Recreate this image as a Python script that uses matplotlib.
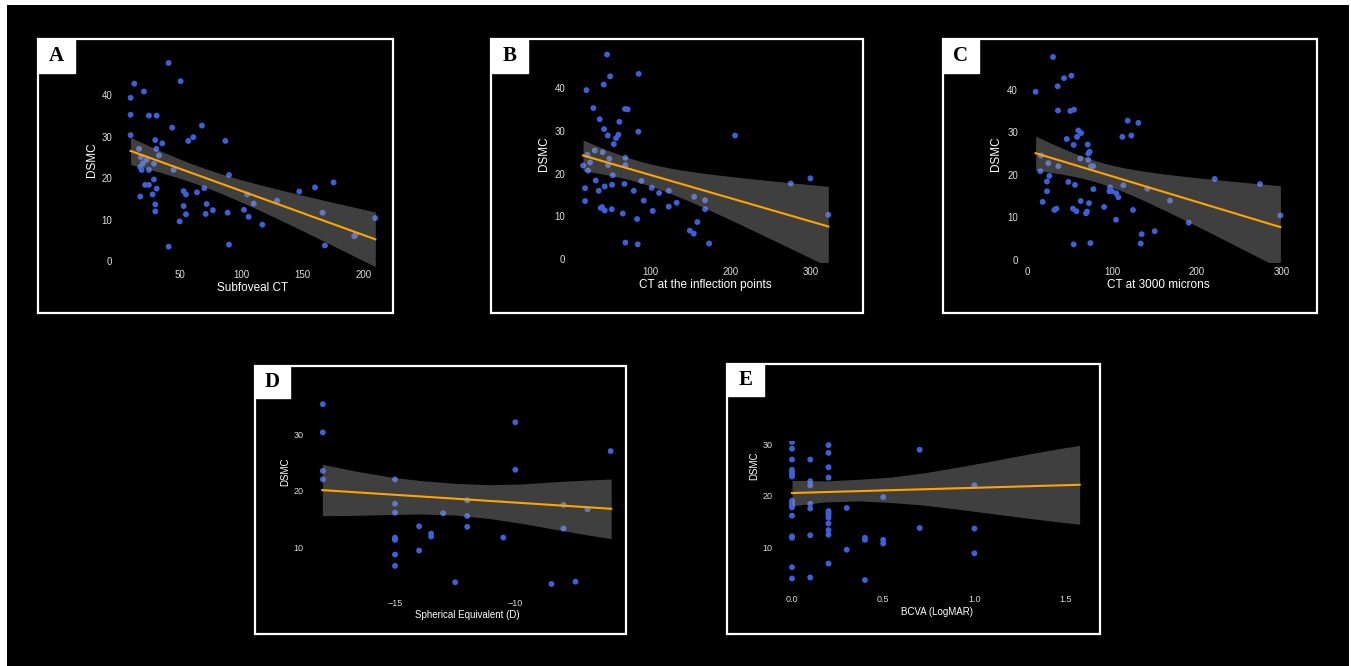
import numpy as np
import matplotlib
matplotlib.use("Agg")
import matplotlib.pyplot as plt
from matplotlib.patches import Rectangle

W, H = 1351, 666

# A: Subfoveal CT vs DSMC
a_x = [9.6, 12.6, 9.6, 9.6, 20.5, 40.7, 50.5, 24.6, 30.9, 43.7, 68.0, 60.9, 56.8, 87.1,
       29.8, 35.5, 16.5, 30.7, 32.8, 18.0, 22.6, 19.6, 28.7, 17.5, 18.6, 24.6, 44.8, 28.7,
       90.1, 21.5, 24.6, 30.9, 17.5, 27.6, 53.0, 54.9, 63.9, 69.9, 29.8, 29.8, 53.0, 54.9,
       71.8, 76.9, 71.0, 49.7, 89.0, 102.4, 106.2, 105.1, 110.3, 117.4, 129.4, 147.6, 160.5,
       175.7, 166.7, 168.6, 90.1, 40.7, 192.6, 193.7, 209.8]
a_y = [39.4, 42.8, 35.3, 30.4, 40.9, 47.8, 43.4, 35.1, 35.1, 32.2, 32.7, 29.9, 29.0, 29.0,
       29.2, 28.4, 27.1, 27.1, 25.5, 25.1, 24.4, 23.6, 23.5, 22.7, 22.0, 22.0, 22.0, 19.7,
       20.8, 18.4, 18.4, 17.5, 15.6, 16.1, 16.9, 16.1, 16.6, 17.6, 13.7, 12.0, 13.3, 11.3,
       13.8, 12.3, 11.4, 9.6, 11.7, 12.4, 10.7, 16.1, 13.9, 8.8, 14.6, 16.8, 17.8,
       19.0, 11.7, 3.8, 4.0, 3.5, 6.0, 6.4, 10.4]

# B: CT at the inflection points vs DSMC
b_x = [45.9, 49.7, 85.4, 41.8, 20.2, 28.9, 68.4, 71.7, 36.8, 61.3, 42.2, 85.0, 46.8, 60.1,
       57.2, 205.6, 54.3, 30.6, 40.5, 21.4, 48.9, 68.8, 24.7, 16.0, 47.2, 68.8, 22.2, 53.0,
       31.8, 88.8, 18.5, 43.0, 52.2, 67.6, 35.6, 79.2, 101.7, 110.8, 122.9, 275.1, 299.6,
       154.5, 168.2, 18.5, 91.7, 132.8, 38.0, 39.7, 43.0, 51.8, 65.5, 102.9, 122.9, 168.2,
       83.4, 158.6, 149.1, 154.1, 68.8, 84.2, 173.2, 322.0]
b_y = [47.8, 42.7, 43.3, 40.8, 39.5, 35.3, 35.1, 35.0, 32.7, 32.1, 30.4, 29.8, 28.9, 29.1,
       28.3, 28.9, 26.9, 25.4, 25.0, 24.4, 23.5, 23.7, 22.6, 21.9, 22.0, 22.0, 20.7, 19.6,
       18.4, 18.3, 16.6, 17.0, 17.4, 17.6, 16.0, 16.0, 16.7, 15.5, 16.0, 17.7, 18.9,
       14.6, 13.8, 13.6, 13.7, 13.2, 12.0, 12.2, 11.4, 11.7, 10.7, 11.3, 12.3, 11.7,
       9.4, 8.7, 6.7, 6.0, 3.9, 3.5, 3.7, 10.4]

# C: CT at 3000 microns vs DSMC
c_x = [30.3, 43.3, 52.0, 35.8, 9.8, 36.2, 50.8, 55.1, 118.5, 131.1, 60.2, 63.4, 58.7, 112.2,
       122.8, 46.5, 54.7, 71.3, 73.6, 72.0, 16.1, 62.6, 72.0, 24.8, 36.6, 75.2, 77.6, 15.4,
       26.0, 23.2, 48.4, 56.3, 113.4, 221.3, 274.8, 23.2, 78.0, 97.6, 96.9, 100.0, 105.1,
       107.5, 141.7, 18.1, 63.0, 72.8, 168.5, 34.3, 31.9, 53.9, 57.9, 69.3, 70.5, 90.6,
       124.8, 104.7, 190.6, 135.0, 150.4, 54.7, 74.4, 133.9, 298.8]
c_y = [47.7, 42.7, 43.3, 40.8, 39.5, 35.1, 35.0, 35.3, 32.7, 32.2, 30.4, 29.8, 28.9, 28.9,
       29.2, 28.4, 27.0, 27.1, 25.4, 25.0, 24.5, 23.8, 23.5, 22.7, 22.0, 22.0, 22.0, 20.8,
       19.7, 18.4, 18.3, 17.6, 17.5, 19.0, 17.8, 16.1, 16.6, 17.0, 16.1, 16.1, 15.6,
       14.7, 16.7, 13.6, 13.8, 13.3, 13.9, 12.0, 11.7, 12.0, 11.4, 10.9, 11.3, 12.4,
       11.7, 9.4, 8.7, 6.0, 6.7, 3.6, 3.9, 3.8, 10.4]

# D: Spherical Equivalent (D) vs DSMC
d_x = [-18.0, -18.0, -18.0, -18.0, -15.0, -15.0, -15.0, -15.0, -15.0, -15.0, -15.0, -15.0,
       -14.0, -14.0, -13.5, -13.5, -13.0, -12.5, -12.0, -12.0, -12.0, -10.5, -10.0, -10.0,
       -8.5, -8.0, -8.0, -7.5, -7.0, -6.04]
d_y = [35.3, 30.3, 23.5, 22.0, 22.0, 17.7, 16.1, 11.7, 11.4, 11.3, 8.7, 6.7,
       13.7, 9.4, 12.4, 11.9, 16.0, 3.8, 18.3, 15.5, 13.6, 11.7, 32.1, 23.7,
       3.5, 17.5, 13.3, 3.9, 16.7, 27.0]
# D fit line and confidence band
d_fit_x = [-18.02, -6.02]
d_fit_y = [20.1, 16.8]
d_band_x = [-18.02, -16.66, -15.0, -13.89, -12.51, -11.12, -9.74, -8.35, -6.97, -6.02]
d_band_hi = [24.66, 23.48, 22.30, 21.77, 21.30, 21.06, 21.18, 21.59, 21.89, 22.06]
d_band_lo = [15.58, 15.63, 15.81, 15.87, 15.69, 15.10, 14.22, 13.16, 12.15, 11.50]

# E: BCVA (LogMAR) vs DSMC (visible points)
e_x = [0.0] * 16 + [0.1] * 7 + [0.2] * 12 + [0.3] * 2 + [0.4] * 3 + [0.5] * 3 + [0.7] * 2 + [1.0] * 3
e_y = [30.4, 29.1, 27.0, 25.0, 24.6, 24.2, 23.7, 19.0, 18.6, 18.1, 17.7, 16.1, 12.1, 11.8, 6.1, 3.9,
       27.0, 22.8, 22.0, 18.4, 17.5, 12.3, 4.1,
       29.8, 28.3, 25.5, 23.5, 17.0, 16.6, 16.2, 15.7, 14.6, 13.3, 12.4, 6.8,
       17.6, 9.5,
       11.8, 11.4, 3.6,
       19.7, 11.4, 10.7,
       28.9, 13.7,
       22.0, 13.6, 8.8]
# E fit line and confidence band
e_fit_x = [0.0, 1.577]
e_fit_y = [20.5, 22.1]
e_band_x = [0.0, 0.18, 0.364, 0.546, 0.729, 0.912, 1.094, 1.277, 1.46, 1.577]
e_band_hi = [22.97, 22.84, 23.16, 23.61, 24.45, 25.55, 26.71, 27.94, 29.10, 29.74]
e_band_lo = [18.0, 18.77, 18.97, 18.65, 18.13, 17.35, 16.52, 15.68, 14.90, 14.45]

ticks_x = {"A": [50, 100, 150, 200], "B": [100, 200, 300], "C": [0, 100, 200, 300],
           "D": [-15, -10], "E": [0.0, 0.5, 1.0, 1.5]}
ticks_y = {"A": [0, 10, 20, 30, 40], "B": [0, 10, 20, 30, 40], "C": [0, 10, 20, 30, 40],
           "D": [10, 20, 30], "E": [10, 20, 30]}
x_labels = {"A": "Subfoveal CT", "B": "CT at the inflection points", "C": "CT at 3000 microns",
            "D": "Spherical Equivalent (D)", "E": "BCVA (LogMAR)"}

POINT = "#3d5fd8"
LINE = "#ffa500"
BAND = "#a0a0a0"
TICK = "#dcdcdc"
SANS = "Liberation Sans"


def fig_box(l, t, r, b):
    return [l / W, 1 - b / H, (r - l) / W, (b - t) / H]


def ols_band(x, y, t=2.0, n_pts=100):
    x = np.asarray(x, float)
    y = np.asarray(y, float)
    n = len(x)
    slope, icpt = np.polyfit(x, y, 1)
    s = np.sqrt(np.sum((y - (icpt + slope * x)) ** 2) / (n - 2))
    xs = np.linspace(x.min(), x.max(), n_pts)
    se = s * np.sqrt(1 / n + (xs - x.mean()) ** 2 / np.sum((x - x.mean()) ** 2))
    yh = icpt + slope * xs
    return xs, yh, yh - t * se, yh + t * se


fig = plt.figure(figsize=(W / 100, H / 100), dpi=100, facecolor="white")
fig.patches.append(Rectangle((7 / W, 0), 1342 / W, 1 - 5 / H, transform=fig.transFigure,
                             facecolor="black", edgecolor="none", zorder=-10))

# layout per panel: border, letter box, axes box (px), limits, font sizes, label spots
panels = {
    "A": dict(border=(38, 39, 393, 313), letter=(38, 39, 75, 73), ax=(118.5, 53.4, 387.5, 266.6),
              xlim=(-0.3, 219.8), ylim=(-1.3, 50.1), fs_t=7, fs_l=8.5, xpad=2.7, ypad=4.5,
              xl=(253, 288), yl=(92, 160)),
    "B": dict(border=(491, 39, 863, 313), letter=(491, 39, 528, 73), ax=(570.8, 44.7, 840.6, 261.9),
              xlim=(0.7, 337.3), ylim=(-0.6, 50.1), fs_t=7, fs_l=8.5, xpad=3.9, ypad=4.0,
              xl=(705.7, 285.3), yl=(544, 154)),
    "C": dict(border=(943, 39, 1317, 313), letter=(943, 39, 979, 73), ax=(1023.4, 47.2, 1292.6, 261.8),
              xlim=(-4.65, 313.25), ylim=(-0.5, 50.0), fs_t=7, fs_l=8.5, xpad=3.9, ypad=3.9,
              xl=(1158, 285.3), yl=(996, 154)),
    "D": dict(border=(255, 366, 626, 634), letter=(255, 366, 290, 398), ax=(307.9, 368, 625.1, 593),
              xlim=(-18.62, -5.44), ylim=(1.9, 41.7), fs_t=6.5, fs_l=7, xpad=4.0, ypad=3.3,
              xl=(467, 615), yl=(285, 472)),
    "E": dict(border=(727, 364, 1100, 634), letter=(727, 364, 764, 396), ax=(777.6, 441, 1094.6, 591.4),
              xlim=(-0.079, 1.659), ylim=(1.4, 30.6), fs_t=6.5, fs_l=7, xpad=2.8, ypad=3.5,
              xl=(937, 612), yl=(754, 466)),
}

data = {"A": (a_x, a_y), "B": (b_x, b_y), "C": (c_x, c_y), "D": (d_x, d_y), "E": (e_x, e_y)}
read_fits = {"D": (d_fit_x, d_fit_y, d_band_x, d_band_lo, d_band_hi),
             "E": (e_fit_x, e_fit_y, e_band_x, e_band_lo, e_band_hi)}

for key, p in panels.items():
    l, t, r, b = p["border"]
    fig.patches.append(Rectangle((l / W, 1 - b / H), (r - l) / W, (b - t) / H,
                                 transform=fig.transFigure, facecolor="none",
                                 edgecolor="white", lw=1.6, zorder=5))
    l, t, r, b = p["letter"]
    fig.patches.append(Rectangle((l / W, 1 - b / H), (r - l) / W, (b - t) / H,
                                 transform=fig.transFigure, facecolor="white",
                                 edgecolor="white", lw=1, zorder=6))
    fig.text((l + r) / 2 / W, 1 - (t + b) / 2 / H, key, ha="center", va="center",
             fontsize=15, fontweight="bold", family="Liberation Serif", color="black", zorder=7)

    ax = fig.add_axes(fig_box(*p["ax"]))
    ax.set_facecolor("black")
    for s in ax.spines.values():
        s.set_visible(False)

    x, y = data[key]
    ax.scatter(x, y, s=18, color=POINT, edgecolors="none", zorder=2)
    # ribbon is translucent and sits over the points, like geom_smooth
    if key in read_fits:
        fx, fy, bx, blo, bhi = read_fits[key]
        ax.fill_between(bx, blo, bhi, color=BAND, alpha=0.4, lw=0, zorder=3)
        ax.plot(fx, fy, color=LINE, lw=1.5, zorder=4)
    else:
        xs, yh, lo, hi = ols_band(x, y)
        ax.fill_between(xs, lo, hi, color=BAND, alpha=0.4, lw=0, zorder=3)
        ax.plot(xs, yh, color=LINE, lw=1.5, zorder=4)

    ax.set_xlim(*p["xlim"])
    ax.set_ylim(*p["ylim"])
    ax.set_xticks(ticks_x[key])
    ax.set_yticks(ticks_y[key])
    if key == "E":
        ax.set_xticklabels(["%.1f" % v for v in ticks_x[key]])
    ax.tick_params(axis="x", length=0, pad=p["xpad"], labelsize=p["fs_t"], labelcolor=TICK)
    ax.tick_params(axis="y", length=0, pad=p["ypad"], labelsize=p["fs_t"], labelcolor=TICK)
    for lab in ax.get_xticklabels() + ax.get_yticklabels():
        lab.set_family(SANS)

    fig.text(p["xl"][0] / W, 1 - p["xl"][1] / H, x_labels[key], ha="center", va="center",
             fontsize=p["fs_l"], color="white", family=SANS)
    fig.text(p["yl"][0] / W, 1 - p["yl"][1] / H, "DSMC", ha="center", va="center",
             rotation=90, fontsize=p["fs_l"], color="white", family=SANS)

fig.savefig("out.png", dpi=100, facecolor=fig.get_facecolor())
